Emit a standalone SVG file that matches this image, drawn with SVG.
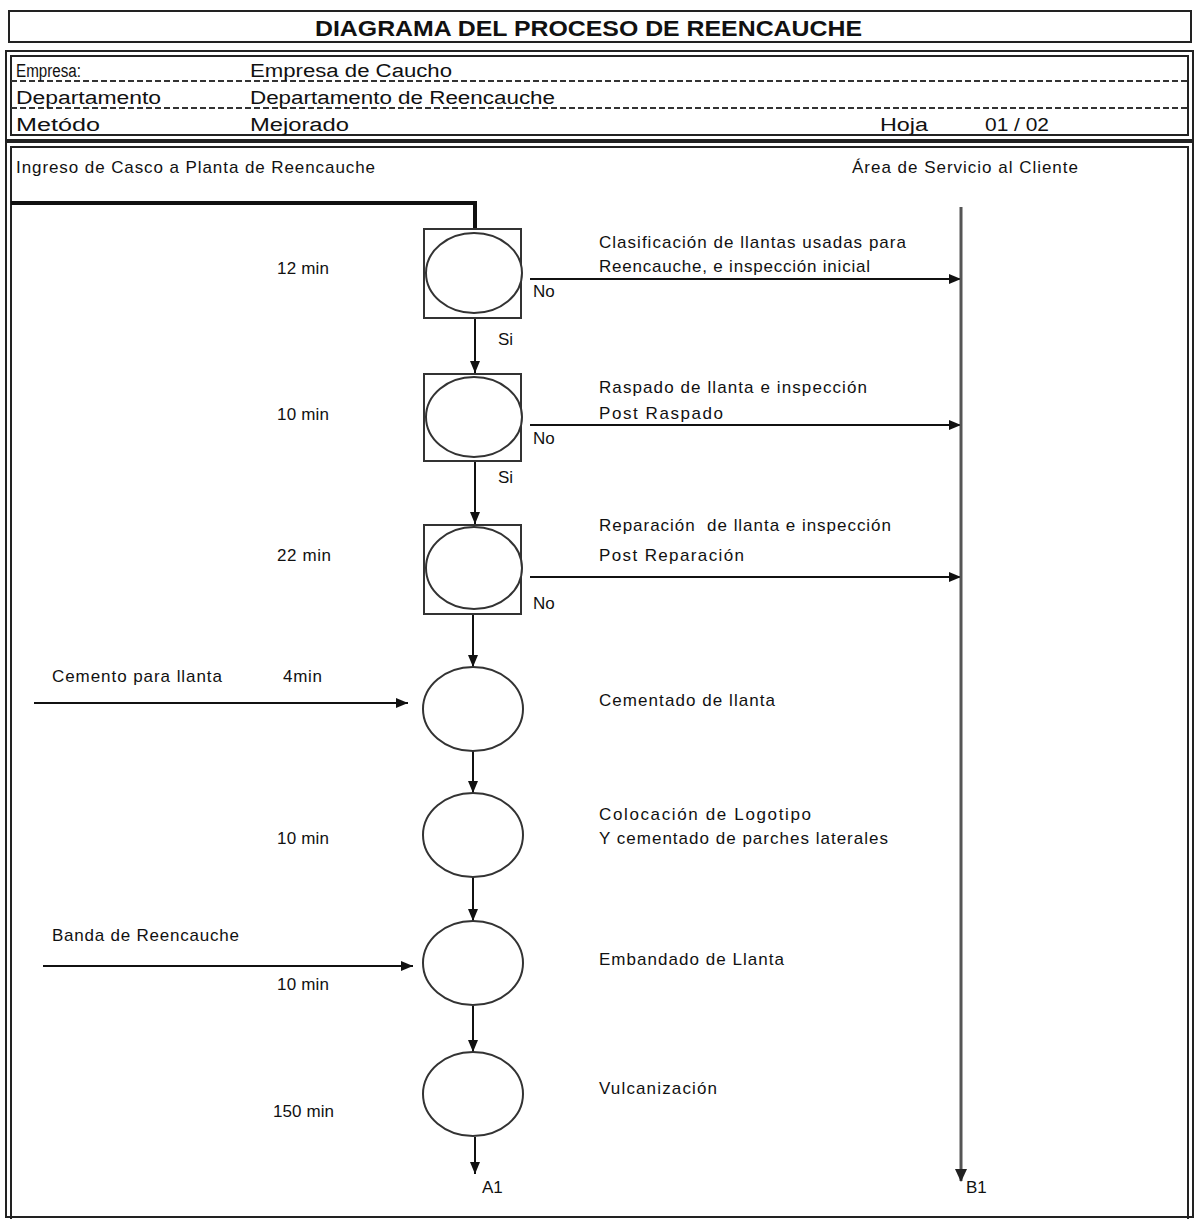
<svg xmlns="http://www.w3.org/2000/svg" width="1194" height="1219" viewBox="0 0 1194 1219">
<defs>
<style>
.t{font-family:"Liberation Sans",Arial,sans-serif;font-size:17px;fill:#111}
.h{font-family:"Liberation Sans Narrow","Liberation Sans",Arial,sans-serif;font-size:18px;fill:#111}
.ttl{font-family:"Liberation Sans Narrow","Liberation Sans",Arial,sans-serif;font-size:22px;font-weight:bold;fill:#111}
.frame{fill:none;stroke:#222;stroke-width:2}
.shape{fill:#fff;stroke:#333;stroke-width:2}
.conn{fill:none;stroke:#111;stroke-width:2}
.dash{stroke:#333;stroke-width:2;stroke-dasharray:6 3}
</style>
<marker id="arr" markerUnits="userSpaceOnUse" markerWidth="14" markerHeight="12" refX="12" refY="6" orient="auto">
<path d="M0,1 L12,6 L0,11 Z" fill="#111"/>
</marker>
<marker id="arrg" markerUnits="userSpaceOnUse" markerWidth="14" markerHeight="14" refX="12" refY="7" orient="auto">
<path d="M0,1 L13,7 L0,13 Z" fill="#222"/>
</marker>
</defs>
<rect width="1194" height="1219" fill="#fff"/>

<g id="title">
<rect x="9" y="11" width="1182" height="31" class="frame"/>
<text x="315" y="36" class="ttl" textLength="547" lengthAdjust="spacingAndGlyphs">DIAGRAMA DEL PROCESO DE REENCAUCHE</text>
</g>

<g id="header">
<rect x="6" y="51" width="1187" height="89" class="frame"/>
<rect x="11" y="56" width="1177" height="79" class="frame"/>
<line x1="11" y1="81" x2="1188" y2="81" class="dash"/>
<line x1="11" y1="108" x2="1188" y2="108" class="dash"/>
<text x="16" y="77" class="h" textLength="65" lengthAdjust="spacingAndGlyphs">Empresa:</text>
<text x="250" y="77" class="h" textLength="202" lengthAdjust="spacingAndGlyphs">Empresa de Caucho</text>
<text x="16" y="104" class="h" textLength="145" lengthAdjust="spacingAndGlyphs">Departamento</text>
<text x="250" y="104" class="h" textLength="305" lengthAdjust="spacingAndGlyphs">Departamento de Reencauche</text>
<text x="16" y="131" class="h" textLength="84" lengthAdjust="spacingAndGlyphs">Metódo</text>
<text x="250" y="131" class="h" textLength="99" lengthAdjust="spacingAndGlyphs">Mejorado</text>
<text x="880" y="131" class="h" textLength="48" lengthAdjust="spacingAndGlyphs">Hoja</text>
<text x="985" y="131" class="h" textLength="64" lengthAdjust="spacingAndGlyphs">01 / 02</text>
</g>

<g id="mainframe">
<rect x="6" y="142" width="1187" height="1075" class="frame"/>
<rect x="11" y="147" width="1177" height="1075" class="frame"/>
<text x="16" y="173" class="t" textLength="359">Ingreso de Casco a Planta de Reencauche</text>
<text x="852" y="173" class="t" textLength="226">Área de Servicio al Cliente</text>
</g>

<g id="connectors">
<path d="M11,203 H475 V228" fill="none" stroke="#111" stroke-width="4"/>
<line x1="475" y1="318" x2="475" y2="373" class="conn" marker-end="url(#arr)"/>
<line x1="475" y1="461" x2="475" y2="524" class="conn" marker-end="url(#arr)"/>
<line x1="473" y1="614" x2="473" y2="667" class="conn" marker-end="url(#arr)"/>
<line x1="473" y1="751" x2="473" y2="793" class="conn" marker-end="url(#arr)"/>
<line x1="473" y1="877" x2="473" y2="921" class="conn" marker-end="url(#arr)"/>
<line x1="473" y1="1006" x2="473" y2="1052" class="conn" marker-end="url(#arr)"/>
<line x1="475" y1="1137" x2="475" y2="1174" class="conn" marker-end="url(#arr)"/>
<line x1="530" y1="279" x2="961" y2="279" class="conn" marker-end="url(#arr)"/>
<line x1="530" y1="425" x2="961" y2="425" class="conn" marker-end="url(#arr)"/>
<line x1="530" y1="577" x2="961" y2="577" class="conn" marker-end="url(#arr)"/>
<line x1="34" y1="703" x2="408" y2="703" class="conn" marker-end="url(#arr)"/>
<line x1="43" y1="966" x2="413" y2="966" class="conn" marker-end="url(#arr)"/>
<line x1="961" y1="207" x2="961" y2="1181" stroke="#555" stroke-width="3" marker-end="url(#arrg)"/>
</g>

<g id="n1">
<rect x="424" y="229" width="97" height="89" class="shape"/>
<ellipse cx="474" cy="273" rx="48" ry="40" class="shape"/>
<text x="277" y="274" class="t" textLength="52">12 min</text>
<text x="599" y="248" class="t" textLength="307">Clasificación de llantas usadas para</text>
<text x="599" y="272" class="t" textLength="271">Reencauche, e inspección inicial</text>
<text x="533" y="297" class="t">No</text>
<text x="498" y="345" class="t">Si</text>
</g>

<g id="n2">
<rect x="424" y="374" width="97" height="87" class="shape"/>
<ellipse cx="474" cy="417" rx="48" ry="40" class="shape"/>
<text x="277" y="420" class="t" textLength="52">10 min</text>
<text x="599" y="393" class="t" textLength="268">Raspado de llanta e inspección</text>
<text x="599" y="419" class="t" textLength="124">Post Raspado</text>
<text x="533" y="444" class="t">No</text>
<text x="498" y="483" class="t">Si</text>
</g>

<g id="n3">
<rect x="424" y="525" width="97" height="89" class="shape"/>
<ellipse cx="474" cy="568" rx="48" ry="41" class="shape"/>
<text x="277" y="561" class="t" textLength="54">22 min</text>
<text x="599" y="531" class="t" textLength="292" xml:space="preserve">Reparación  de llanta e inspección</text>
<text x="599" y="561" class="t" textLength="145">Post Reparación</text>
<text x="533" y="609" class="t">No</text>
</g>

<g id="n4">
<ellipse cx="473" cy="709" rx="50" ry="42" class="shape"/>
<text x="52" y="682" class="t" textLength="170">Cemento para llanta</text>
<text x="283" y="682" class="t" textLength="39">4min</text>
<text x="599" y="706" class="t" textLength="176">Cementado de llanta</text>
</g>

<g id="n5">
<ellipse cx="473" cy="835" rx="50" ry="42" class="shape"/>
<text x="277" y="844" class="t" textLength="52">10 min</text>
<text x="599" y="820" class="t" textLength="212">Colocación de Logotipo</text>
<text x="599" y="844" class="t" textLength="289">Y cementado de parches laterales</text>
</g>

<g id="n6">
<ellipse cx="473" cy="963" rx="50" ry="42" class="shape"/>
<text x="52" y="941" class="t" textLength="187">Banda de Reencauche</text>
<text x="277" y="990" class="t" textLength="52">10 min</text>
<text x="599" y="965" class="t" textLength="185">Embandado de Llanta</text>
</g>

<g id="n7">
<ellipse cx="473" cy="1094" rx="50" ry="42" class="shape"/>
<text x="273" y="1117" class="t" textLength="61">150 min</text>
<text x="599" y="1094" class="t" textLength="118">Vulcanización</text>
</g>

<g id="ends">
<text x="482" y="1193" class="t">A1</text>
<text x="966" y="1193" class="t">B1</text>
</g>
</svg>
